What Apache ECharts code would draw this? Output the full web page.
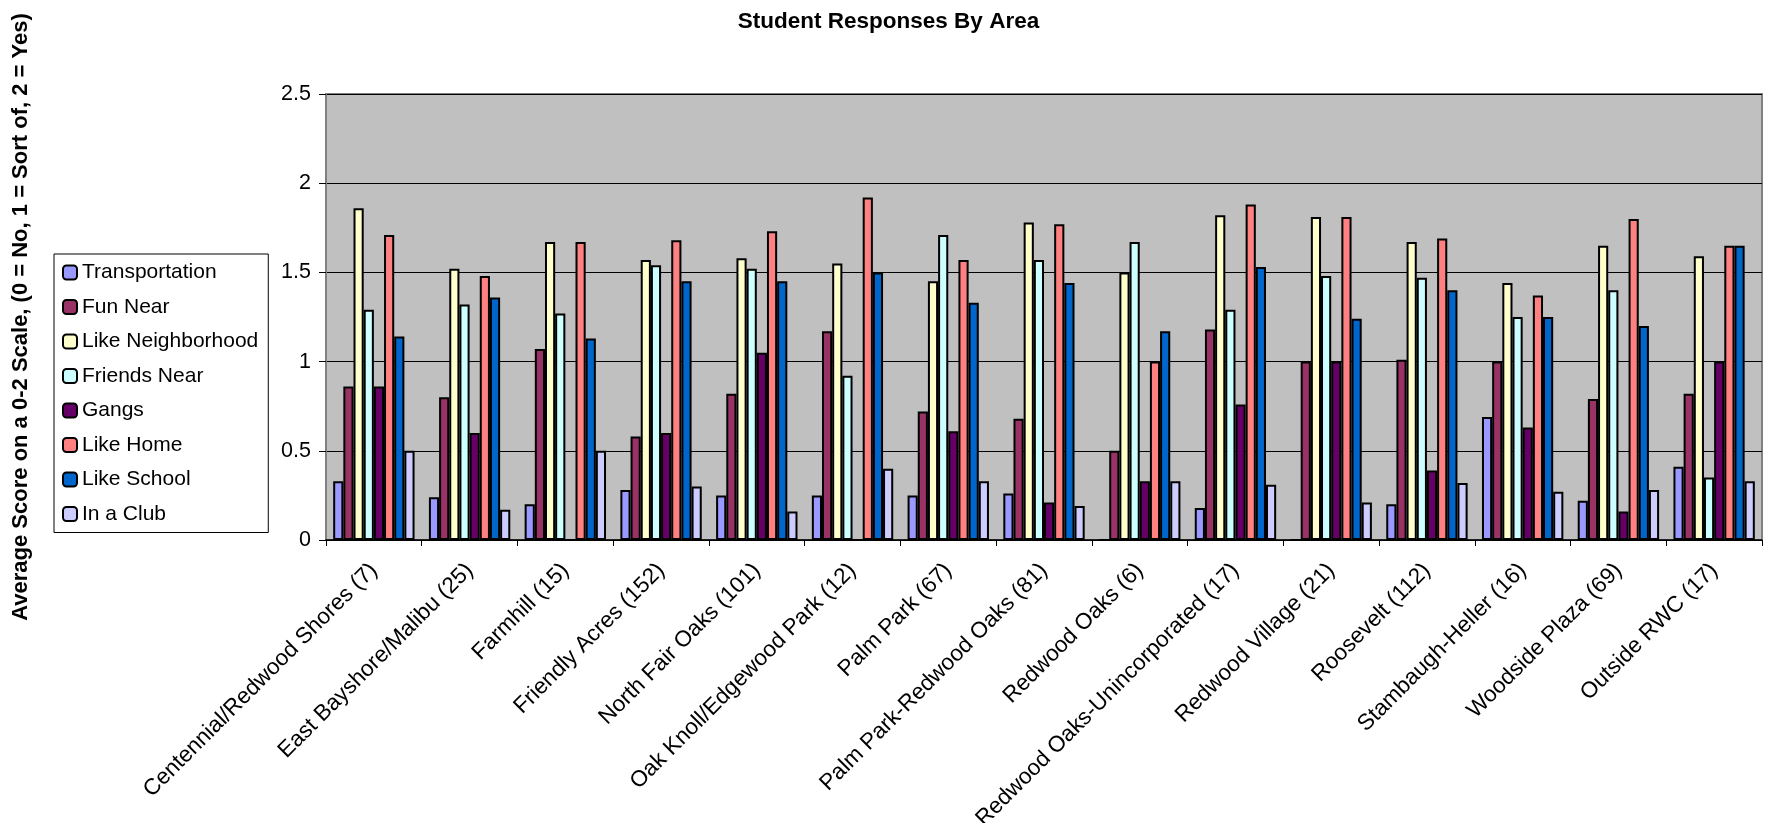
<!DOCTYPE html>
<html>
<head>
<meta charset="utf-8">
<title>Student Responses By Area</title>
<script src="https://cdn.jsdelivr.net/npm/echarts@6/dist/echarts.min.js"></script>
<style>
  html, body { margin: 0; padding: 0; background: #fff; }
  #main { width: 1777px; height: 823px; }
</style>
</head>
<body>
<div id="main"></div>
<script>
var areas = ['Centennial/Redwood Shores (7)', 'East Bayshore/Malibu (25)', 'Farmhill (15)',
  'Friendly Acres (152)', 'North Fair Oaks (101)', 'Oak Knoll/Edgewood Park (12)', 'Palm Park (67)',
  'Palm Park-Redwood Oaks (81)', 'Redwood Oaks (6)', 'Redwood Oaks-Unincorporated (17)',
  'Redwood Village (21)', 'Roosevelt (112)', 'Stambaugh-Heller (16)', 'Woodside Plaza (69)', 'Outside RWC (17)'];

var seriesNames = ['Transportation', 'Fun Near', 'Like Neighborhood', 'Friends Near', 'Gangs', 'Like Home', 'Like School', 'In a Club'];
var seriesColors = ['#9999FF', '#993366', '#FFFFCC', '#CCFFFF', '#660066', '#FF8080', '#0066CC', '#CCCCFF'];

var transportation   = [0.33, 0.24, 0.20, 0.28, 0.25, 0.25, 0.25, 0.26, 0, 0.18, 0, 0.20, 0.69, 0.22, 0.41];
var funNear          = [0.86, 0.80, 1.07, 0.58, 0.82, 1.17, 0.72, 0.68, 0.50, 1.18, 1.00, 1.01, 1.00, 0.79, 0.82];
var likeNeighborhood = [1.86, 1.52, 1.67, 1.57, 1.58, 1.55, 1.45, 1.78, 1.50, 1.82, 1.81, 1.67, 1.44, 1.65, 1.59];
var friendsNear      = [1.29, 1.32, 1.27, 1.54, 1.52, 0.92, 1.71, 1.57, 1.67, 1.29, 1.48, 1.47, 1.25, 1.40, 0.35];
var gangs            = [0.86, 0.60, 0, 0.60, 1.05, 0, 0.61, 0.21, 0.33, 0.76, 1.00, 0.39, 0.63, 0.16, 1.00];
var likeHome         = [1.71, 1.48, 1.67, 1.68, 1.73, 1.92, 1.57, 1.77, 1.00, 1.88, 1.81, 1.69, 1.37, 1.80, 1.65];
var likeSchool       = [1.14, 1.36, 1.13, 1.45, 1.45, 1.50, 1.33, 1.44, 1.17, 1.53, 1.24, 1.40, 1.25, 1.20, 1.65];
var inAClub          = [0.50, 0.17, 0.50, 0.30, 0.16, 0.40, 0.33, 0.19, 0.33, 0.31, 0.21, 0.32, 0.27, 0.28, 0.33];

var seriesValues = [transportation, funNear, likeNeighborhood, friendsNear, gangs, likeHome, likeSchool, inAClub];

var font = 'Liberation Sans, Arial, sans-serif';
var myChart = echarts.init(document.getElementById('main'));

var series = [];
for (var i = 0; i < seriesNames.length; i++) {
  series.push({
    name: seriesNames[i],
    type: 'bar',
    data: seriesValues[i],
    barGap: '0%',
    barCategoryGap: '15%',
    itemStyle: { color: seriesColors[i], borderColor: '#000', borderWidth: 2 }
  });
}

var option = {
  animation: false,
  backgroundColor: '#fff',
  title: {
    text: 'Student Responses By Area',
    left: 'center',
    top: 5,
    textStyle: { fontFamily: font, fontSize: 22.5, fontWeight: 'bold', color: '#000' }
  },
  legend: {
    orient: 'vertical',
    left: 54,
    top: 254,
    padding: [8, 10, 8, 8],
    itemWidth: 14,
    itemHeight: 14,
    itemGap: 13.5,
    itemTextGap: 6,
    borderColor: '#000',
    borderWidth: 1,
    textStyle: { fontFamily: font, fontSize: 21, color: '#000' },
    data: seriesNames
  },
  grid: {
    left: 326, right: 15, top: 94, bottom: 283,
    outerBoundsMode: 'none',
    containLabel: false,
    show: true,
    backgroundColor: '#C0C0C0',
    borderColor: '#808080',
    borderWidth: 2
  },
  xAxis: {
    type: 'category',
    data: areas,
    axisLine: { lineStyle: { color: '#000', width: 1.5 } },
    axisTick: { show: true, length: 6, lineStyle: { color: '#000' } },
    axisLabel: { rotate: 45, margin: 27, interval: 0, fontFamily: font, fontSize: 22.5, color: '#000' }
  },
  yAxis: {
    type: 'value',
    min: 0, max: 2.5, interval: 0.5,
    name: 'Average Score on a 0-2 Scale, (0 = No, 1 = Sort of, 2 = Yes)',
    nameLocation: 'middle',
    nameGap: 294,
    nameTextStyle: { fontFamily: font, fontSize: 22, fontWeight: 'bold', color: '#000' },
    axisLine: { show: true, lineStyle: { color: '#808080', width: 2 } },
    axisTick: { show: true, length: 7, lineStyle: { color: '#000' } },
    axisLabel: { margin: 15, fontFamily: font, fontSize: 21.5, color: '#000' },
    splitLine: { lineStyle: { color: '#000', width: 1 } }
  },
  series: series
};
myChart.setOption(option);
</script>
</body>
</html>
